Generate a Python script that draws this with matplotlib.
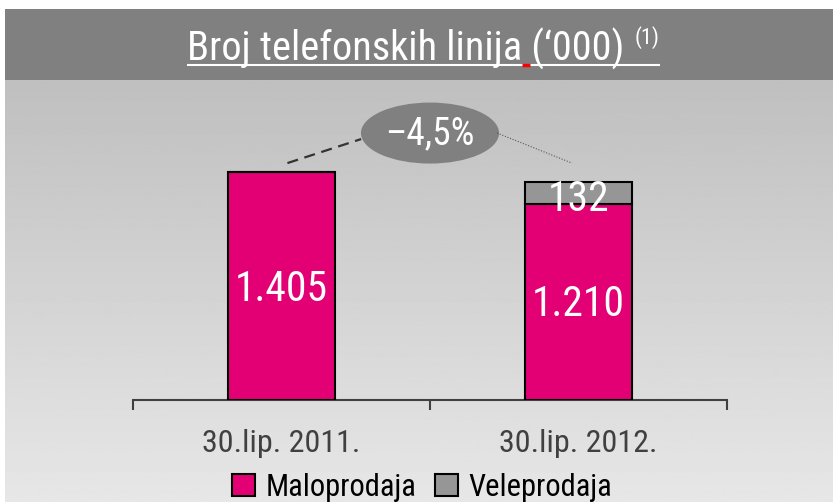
import numpy as np
import matplotlib
matplotlib.use("Agg")
import matplotlib.pyplot as plt
from matplotlib.patches import Ellipse, Rectangle, Patch
from matplotlib import font_manager

categories = ["30.lip. 2011.", "30.lip. 2012."]
maloprodaja = [1405, 1210]
veleprodaja = [0, 132]
maloprodaja_labels = ["1.405", "1.210"]
veleprodaja_labels = ["", "132"]
change_label = "\u20134,5%"
series_names = ["Maloprodaja", "Veleprodaja"]
title = "Broj telefonskih linija (\u2018000)"
title_note = "(1)"

MAGENTA = "#E20074"
GRAY_BAR = "#969696"
HEADER = "#808080"

names = {f.name for f in font_manager.fontManager.ttflist}
if "Roboto Condensed" in names:
    fam = ["Roboto Condensed", "DejaVu Sans"]
elif "Archivo Narrow" in names:
    fam = ["Archivo Narrow", "DejaVu Sans"]
else:
    fam = ["Liberation Sans", "DejaVu Sans"]
plt.rcParams['font.family'] = fam

W, H = 833, 503
fig = plt.figure(figsize=(W / 100, H / 100), dpi=100)

bg = fig.add_axes([0, 0, 1, 1])
bg.set_xlim(0, W)
bg.set_ylim(H, 0)
bg.axis("off")
grad = np.linspace(0.75, 0.905, 256).reshape(-1, 1)
bg.imshow(grad, cmap="gray", vmin=0, vmax=1, extent=[5, W, H - 1, 80], aspect="auto", zorder=0)
bg.add_patch(Rectangle((5, 9), W - 5, 71, facecolor=HEADER, edgecolor="none", zorder=1))
t = bg.text(187, 61, title, color="white", fontsize=29, ha="left", va="baseline", zorder=2)
fig.canvas.draw()
r = fig.canvas.get_renderer()
x_end = t.get_window_extent(r).x1
bg.text(x_end + 10, 44, title_note, color="white", fontsize=16, ha="left", va="baseline", zorder=2)
bg.plot([187, 660], [64.5, 64.5], color="white", lw=1.5, zorder=2, solid_capstyle="butt")
bg.plot([522, 530], [65, 65], color="red", lw=2.5, zorder=3, solid_capstyle="butt")

ax = fig.add_axes([133 / W, (H - 400) / H, (727 - 133) / W, 320 / H])
ax.patch.set_alpha(0)
x = np.arange(len(categories))
bw = 0.36
ax.bar(x, maloprodaja, width=bw, color=MAGENTA, edgecolor="black", linewidth=1.5, zorder=3)
ax.bar(x, veleprodaja, width=bw, bottom=maloprodaja, color=GRAY_BAR, edgecolor="black", linewidth=1.5, zorder=3)
ax.set_xlim(-0.5, 1.5)
ax.set_ylim(0, 1972)

ax.text(x[0], maloprodaja[0] * 0.483, maloprodaja_labels[0], color="white", fontsize=30, ha="center", va="center", zorder=5)
ax.text(x[1], maloprodaja[1] * 0.484, maloprodaja_labels[1], color="white", fontsize=30, ha="center", va="center", zorder=5)
ax.text(x[1], maloprodaja[1] + veleprodaja[1] * 0.21, veleprodaja_labels[1], color="white", fontsize=30, ha="center", va="center", zorder=5)

ax.add_patch(Ellipse((0.5, 1645), 0.465, 376, facecolor=HEADER, edgecolor="none", zorder=4, clip_on=False))
ax.text(0.5, 1640, change_label, color="white", fontsize=27, ha="center", va="center", zorder=5)
ax.plot([0.02, 0.268], [1460, 1608], color="#333333", lw=1.6, ls=(0, (5, 3)), zorder=4)
ax.plot([0.726, 0.978], [1645, 1460], color="#555555", lw=0.8, ls=(0, (1, 1.5)), zorder=4)

for s in ["top", "left", "right"]:
    ax.spines[s].set_visible(False)
ax.spines["bottom"].set_color("#404040")
ax.spines["bottom"].set_linewidth(1.5)
ax.set_yticks([])
ax.set_xticks([-0.5, 0.5, 1.5])
ax.set_xticklabels([])
ax.tick_params(axis="x", which="major", length=7.5, width=1.5, color="#404040", direction="out")
ax.set_xticks(x, minor=True)
ax.set_xticklabels(categories, minor=True)
ax.tick_params(axis="x", which="minor", length=0, pad=21, labelsize=23, labelcolor="#404040")

handles = [Patch(facecolor=MAGENTA, edgecolor="black", linewidth=1.5),
           Patch(facecolor=GRAY_BAR, edgecolor="black", linewidth=1.5)]
fig.legend(handles, series_names, loc="center", bbox_to_anchor=(422 / W, 1 - 487 / H),
           ncol=2, frameon=False, fontsize=22, handlelength=0.75, handleheight=0.75,
           handletextpad=0.35, columnspacing=0.6, borderpad=0)

fig.savefig("out.png", dpi=100)
